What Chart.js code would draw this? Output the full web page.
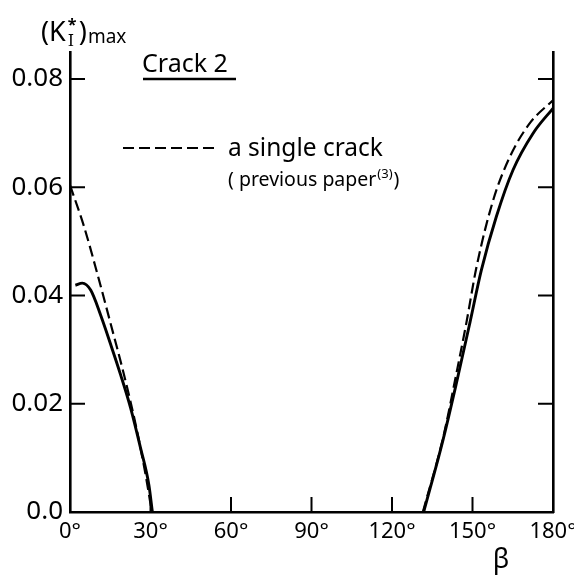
<!DOCTYPE html>
<html>
<head>
<meta charset="utf-8">
<script src="https://cdn.jsdelivr.net/npm/chart.js@4.4.1/dist/chart.umd.min.js"></script>
<style>
  html, body { margin: 0; padding: 0; background: #fff; }
  #wrap { width: 574px; height: 575px; }
</style>
</head>
<body>
<div id="wrap"><canvas id="chart" width="574" height="575"></canvas></div>
<script>
// beta (degrees) and (K*_I)max

// crack 2, solid curves
const solidLeftBeta = [2.0, 4.6, 7.7, 11.4, 15.2, 18.9, 22.6, 26.3, 29.4, 30.7];
const solidLeftK = [0.0419, 0.0423, 0.0410, 0.0364, 0.0309, 0.0253, 0.0192, 0.0118, 0.0050, 0];
const solidRightBeta = [131.8, 139.0, 144.0, 149.0, 153.3, 158.9, 165.1, 172.6, 180];
const solidRightK = [0, 0.0133, 0.0238, 0.0349, 0.0447, 0.0546, 0.0632, 0.0700, 0.0746];

// a single crack (previous paper), dashed curves
const dashedLeftBeta = [0, 5.2, 10.2, 15.2, 20.1, 24.5, 28.2, 30.5];
const dashedLeftK = [0.0604, 0.0528, 0.0440, 0.0347, 0.0254, 0.0161, 0.0068, 0];
const dashedRightBeta = [131.5, 139.0, 144.0, 147.7, 151.5, 157.7, 163.9, 171.3, 180];
const dashedRightK = [0, 0.0136, 0.0256, 0.0349, 0.0453, 0.0576, 0.0656, 0.0718, 0.0761];

const xTicks = [0, 30, 60, 90, 120, 150, 180];
const yTicks = [0, 0.02, 0.04, 0.06, 0.08];

const FONT = '"Noto Sans", sans-serif';

function pts(xs, ys) {
  return xs.map((x, i) => ({ x: x, y: ys[i] }));
}

function curve(xs, ys, dashed) {
  return {
    data: pts(xs, ys),
    borderColor: '#000',
    borderWidth: dashed ? 2.2 : 2.9,
    borderDash: dashed ? [11, 5] : [],
    pointRadius: 0,
    fill: false,
    cubicInterpolationMode: 'monotone',
    clip: false
  };
}

// inward tick marks, title and key
const decorations = {
  id: 'decorations',
  afterDraw(chart) {
    const ctx = chart.ctx;
    const xs = chart.scales.x;
    const ys = chart.scales.y;
    const area = chart.chartArea;

    ctx.save();
    ctx.strokeStyle = '#000';
    ctx.fillStyle = '#000';
    ctx.lineWidth = 2;
    ctx.beginPath();
    xTicks.forEach(v => {
      if (v === 0 || v === 180) return;
      const px = xs.getPixelForValue(v);
      ctx.moveTo(px, area.bottom);
      ctx.lineTo(px, area.bottom - 15);
    });
    yTicks.forEach(v => {
      if (v === 0) return;
      const py = ys.getPixelForValue(v);
      ctx.moveTo(area.left, py);
      ctx.lineTo(area.left + 15, py);
      ctx.moveTo(area.right, py);
      ctx.lineTo(area.right - 15, py);
    });
    ctx.stroke();

    // axis title (K*_I)max
    ctx.textBaseline = 'alphabetic';
    ctx.textAlign = 'left';
    ctx.font = '27px ' + FONT;
    let x = 41;
    ctx.fillText('(K', x, 41);
    x += ctx.measureText('(K').width + 1;
    ctx.font = 'bold 16px ' + FONT;
    ctx.fillText('*', x + 1, 30);
    ctx.font = '16px "DejaVu Serif", serif';
    ctx.fillText('I', x + 1, 46);
    x += 12;
    ctx.font = '27px ' + FONT;
    ctx.fillText(')', x, 41);
    x += ctx.measureText(')').width + 1;
    ctx.font = '19px ' + FONT;
    ctx.fillText('max', x, 43);

    // Crack 2, underlined
    ctx.font = '25px ' + FONT;
    ctx.fillText('Crack 2', 142, 72);
    ctx.lineWidth = 2.5;
    ctx.beginPath();
    ctx.moveTo(143, 79);
    ctx.lineTo(236, 79);
    ctx.stroke();

    // key for the dashed curve
    ctx.lineWidth = 2.2;
    ctx.setLineDash([11, 5]);
    ctx.beginPath();
    ctx.moveTo(123, 148);
    ctx.lineTo(219, 148);
    ctx.stroke();
    ctx.setLineDash([]);
    ctx.font = '24.5px ' + FONT;
    ctx.fillText('a single crack', 228, 156);
    ctx.font = '19.5px ' + FONT;
    let tx = 228;
    ctx.fillText('( previous paper', tx, 186);
    tx += ctx.measureText('( previous paper').width;
    ctx.font = '13px ' + FONT;
    ctx.fillText('(3)', tx + 1, 178);
    tx += ctx.measureText('(3)').width + 2;
    ctx.font = '19.5px ' + FONT;
    ctx.fillText(')', tx, 186);

    // beta label
    ctx.font = '27px ' + FONT;
    ctx.textAlign = 'center';
    ctx.fillText('\u03b2', 501, 568);
    ctx.restore();
  }
};

const axisCommon = {
  type: 'linear',
  grid: { display: false, drawTicks: false },
  border: { display: true, color: '#000', width: 2.6 }
};

new Chart(document.getElementById('chart'), {
  type: 'line',
  data: {
    datasets: [
      curve(solidLeftBeta, solidLeftK, false),
      curve(solidRightBeta, solidRightK, false),
      curve(dashedLeftBeta, dashedLeftK, true),
      curve(dashedRightBeta, dashedRightK, true)
    ]
  },
  options: {
    responsive: false,
    devicePixelRatio: 1,
    animation: false,
    layout: { padding: { top: 52, left: 0, right: 0, bottom: 0 } },
    plugins: {
      legend: { display: false },
      tooltip: { enabled: false },
      title: { display: false }
    },
    scales: {
      x: {
        ...axisCommon,
        position: 'bottom',
        min: 0,
        max: 180,
        ticks: {
          color: '#000',
          font: { family: FONT, size: 22 },
          padding: 7,
          maxRotation: 0,
          autoSkip: false,
          callback: v => v + '\u00b0'
        },
        afterBuildTicks: s => { s.ticks = xTicks.map(v => ({ value: v })); },
        afterFit: s => { s.height = 63; s.paddingLeft = 0; s.paddingRight = 0; }
      },
      y: {
        ...axisCommon,
        position: 'left',
        min: 0,
        max: 0.085,
        ticks: {
          color: '#000',
          font: { family: FONT, size: 26 },
          padding: 7,
          callback: v => (v === 0 ? '0.0' : v.toFixed(2))
        },
        afterBuildTicks: s => { s.ticks = yTicks.map(v => ({ value: v })); },
        afterFit: s => { s.width = 70; s.paddingTop = 0; s.paddingBottom = 0; }
      },
      y2: {
        ...axisCommon,
        position: 'right',
        min: 0,
        max: 0.085,
        ticks: { display: false },
        afterFit: s => { s.width = 21; s.paddingTop = 0; s.paddingBottom = 0; }
      }
    }
  },
  plugins: [decorations]
});
</script>
</body>
</html>
